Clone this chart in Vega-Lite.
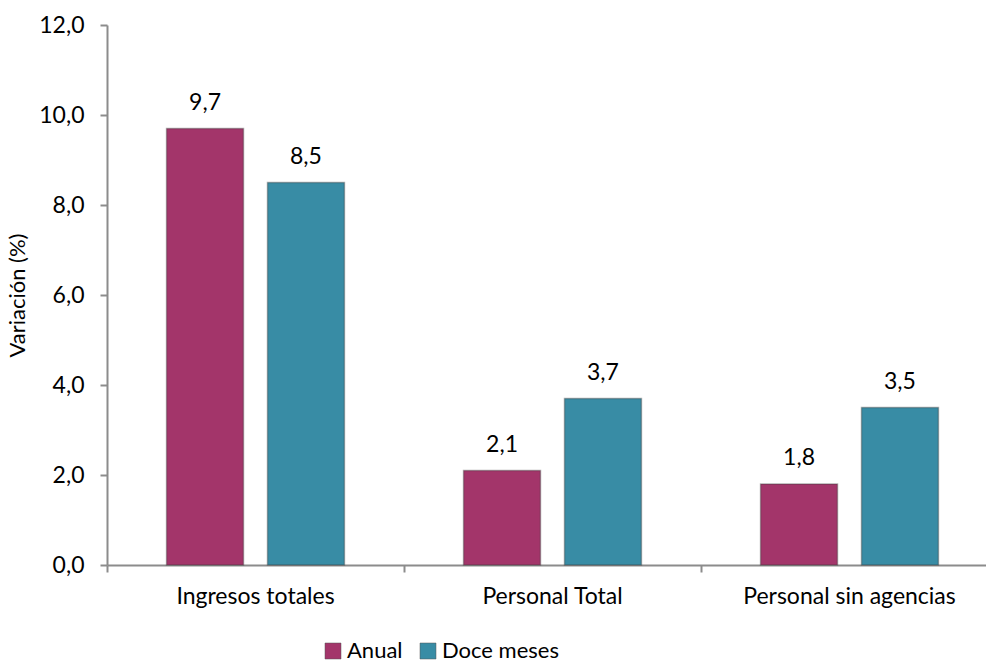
{
  "$schema": "https://vega.github.io/schema/vega-lite/v6.json",
  "autosize": "none",
  "width": 891,
  "height": 540,
  "padding": {"left": 107, "top": 25, "right": 0, "bottom": 99},
  "background": "white",
  "config": {
    "font": "Lato",
    "view": {"stroke": null},
    "locale": {
      "number": {"decimal": ",", "thousands": ".", "grouping": [3], "currency": ["", " €"]}
    }
  },
  "data": {
    "values": [
      {"categoria": "Ingresos totales", "serie": "Anual", "valor": 9.7},
      {"categoria": "Ingresos totales", "serie": "Doce meses", "valor": 8.5},
      {"categoria": "Personal Total", "serie": "Anual", "valor": 2.1},
      {"categoria": "Personal Total", "serie": "Doce meses", "valor": 3.7},
      {"categoria": "Personal sin agencias", "serie": "Anual", "valor": 1.8},
      {"categoria": "Personal sin agencias", "serie": "Doce meses", "valor": 3.5}
    ]
  },
  "encoding": {
    "x": {
      "field": "categoria",
      "type": "nominal",
      "sort": ["Ingresos totales", "Personal Total", "Personal sin agencias"],
      "scale": {"paddingInner": 0, "paddingOuter": 0},
      "axis": {
        "title": null,
        "labelAngle": 0,
        "labelFont": "Lato",
        "labelFontSize": 23,
        "labelLimit": 400,
        "labelColor": "#000000",
        "labelPadding": 13,
        "domainColor": "#8c8c8c",
        "domainWidth": 2,
        "ticks": true,
        "tickColor": "#8c8c8c",
        "tickWidth": 2,
        "tickSize": 7,
        "bandPosition": 0
      }
    },
    "xOffset": {
      "field": "serie",
      "type": "nominal",
      "sort": ["Anual", "Doce meses"],
      "scale": {"paddingInner": 0.238, "paddingOuter": 0.59}
    },
    "y": {
      "field": "valor",
      "type": "quantitative",
      "scale": {"domain": [0, 12], "nice": false},
      "axis": {
        "title": "Variación (%)",
        "titleFont": "Lato",
        "titleFontSize": 22,
        "titleFontWeight": "normal",
        "titleColor": "#000000",
        "titlePadding": 9,
        "values": [0, 2, 4, 6, 8, 10, 12],
        "format": ".1f",
        "labelFont": "Lato",
        "labelFontSize": 23,
        "labelColor": "#000000",
        "labelPadding": 16,
        "grid": false,
        "domainColor": "#8c8c8c",
        "domainWidth": 2,
        "tickColor": "#8c8c8c",
        "tickWidth": 2,
        "tickSize": 7
      }
    }
  },
  "layer": [
    {
      "mark": {"type": "bar", "strokeWidth": 1.5, "stroke": "#3a3a3a", "strokeOpacity": 0.4},
      "encoding": {
        "color": {
          "field": "serie",
          "type": "nominal",
          "sort": ["Anual", "Doce meses"],
          "scale": {"domain": ["Anual", "Doce meses"], "range": ["#A3356A", "#388CA5"]},
          "legend": {
            "title": null,
            "orient": "none",
            "direction": "horizontal",
            "legendX": 215,
            "legendY": 615,
            "symbolType": "square",
            "symbolSize": 256,
            "symbolStrokeColor": "#555555",
            "symbolStrokeWidth": 0.5,
            "labelFont": "Lato",
            "labelFontSize": 22,
            "labelColor": "#000000",
            "labelOffset": 3,
            "columnPadding": 14
          }
        }
      }
    },
    {
      "mark": {"type": "text", "baseline": "bottom", "dy": -14, "fontSize": 23, "font": "Lato", "color": "#000000"},
      "encoding": {
        "text": {"field": "valor", "type": "quantitative", "format": ".1f"}
      }
    }
  ]
}
